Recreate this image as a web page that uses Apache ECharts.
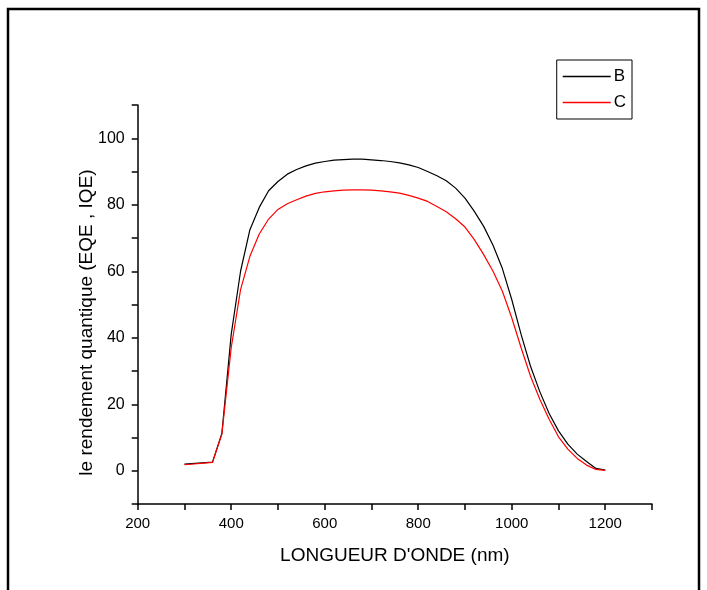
<!DOCTYPE html>
<html>
<head>
<meta charset="utf-8">
<script src="https://cdn.jsdelivr.net/npm/echarts@6/dist/echarts.min.js"></script>
<style>html,body{margin:0;padding:0;background:#fff;}#c{width:707px;height:590px;}</style>
</head>
<body>
<div id="c"></div>
<script>
const wavelengths = [300,360,380,400,420,440,460,480,500,520,540,560,580,600,620,640,660,680,700,720,740,760,780,800,820,840,860,880,900,920,940,960,980,1000,1020,1040,1060,1080,1100,1120,1140,1160,1180,1200];
const seriesB = [2.0,2.6,11.2,41,60,72.5,79.2,84.2,87,89.2,90.6,91.7,92.5,93.0,93.4,93.6,93.7,93.7,93.5,93.3,93.0,92.6,92.0,91.2,90.0,88.7,87.2,85.0,82.0,78.0,73.5,67.8,60.8,51.5,41,31.5,23.8,17.2,12,8,5,2.8,0.7,0.2];
const seriesC = [1.8,2.5,11,37,54.5,64.5,71.2,75.7,78.6,80.3,81.5,82.6,83.4,83.9,84.2,84.4,84.5,84.5,84.4,84.2,83.9,83.5,82.8,82.0,81.0,79.5,77.9,75.8,73.3,69.5,65.0,60.0,54.0,46,37,28.5,21.5,15.5,10.2,6.5,3.7,1.7,0.4,0.1];
const xTickLabels = [200,400,600,800,1000,1200];
const yTickLabels = [0,20,40,60,80,100];

const pairs = a => wavelengths.map((w,i)=>[w,a[i]]);
const font = '"Liberation Sans", Arial, sans-serif';
const chart = echarts.init(document.getElementById('c'), null, {renderer:'canvas'});
chart.setOption({
  animation:false,
  backgroundColor:'#fff',
  graphic:[{type:'rect',shape:{x:8,y:9,width:691,height:620},style:{fill:'none',stroke:'#000',lineWidth:2.5},silent:true}],
  grid:{left:137.7,right:55,top:105,bottom:86,containLabel:false},
  legend:{
    right:75,top:60,orient:'vertical',
    data:['B','C'],
    itemWidth:48,itemHeight:1.5,itemGap:9,
    icon:'rect',
    padding:[8,6,8,6],
    borderColor:'#000',borderWidth:1,
    textStyle:{fontFamily:font,fontSize:17,color:'#000',padding:[0,0,0,-2]}
  },
  xAxis:{
    type:'value',min:200,max:1300,interval:100,
    name:"LONGUEUR D'ONDE (nm)",nameLocation:'middle',nameGap:42,nameMoveOverlap:false,
    nameTextStyle:{fontFamily:font,fontSize:19,color:'#000'},
    axisLine:{show:true,onZero:false,lineStyle:{color:'#000',width:1.5}},
    axisTick:{show:true,inside:false,length:6,lineStyle:{color:'#000',width:1.5}},
    axisLabel:{fontFamily:font,fontSize:15,color:'#000',margin:12,
      formatter:v=>xTickLabels.includes(v)?String(v):''},
    splitLine:{show:false}
  },
  yAxis:{
    type:'value',min:-10,max:110,interval:10,
    name:'le rendement quantique (EQE , IQE)',nameLocation:'middle',nameGap:41,nameMoveOverlap:false,
    nameTextStyle:{fontFamily:font,fontSize:19,color:'#000',padding:[0,36,0,0]},
    axisLine:{show:true,onZero:false,lineStyle:{color:'#000',width:1.5}},
    axisTick:{show:true,inside:false,length:6,lineStyle:{color:'#000',width:1.5}},
    axisLabel:{fontFamily:font,fontSize:16,color:'#000',margin:13,showMinLabel:true,showMaxLabel:true,
      formatter:v=>yTickLabels.includes(v)?String(v):''},
    splitLine:{show:false}
  },
  series:[
    {name:'B',type:'line',data:pairs(seriesB),showSymbol:false,smooth:false,
     lineStyle:{color:'#000',width:1.2},itemStyle:{color:'#000'}},
    {name:'C',type:'line',data:pairs(seriesC),showSymbol:false,smooth:false,
     lineStyle:{color:'#ff0000',width:1.2},itemStyle:{color:'#ff0000'}}
  ]
});
</script>
</body>
</html>
